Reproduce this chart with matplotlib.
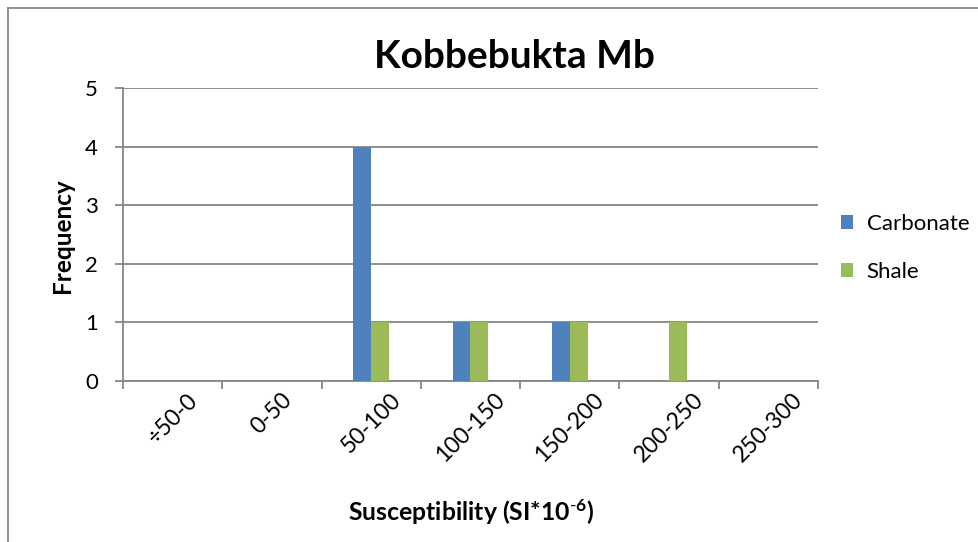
import matplotlib
matplotlib.use("Agg")
import matplotlib.pyplot as plt
from matplotlib.lines import Line2D
import numpy as np

categories = ["÷50-0", "0-50", "50-100", "100-150", "150-200", "200-250", "250-300"]
carbonate = [0, 0, 4, 1, 1, 0, 0]
shale = [0, 0, 1, 1, 1, 1, 0]
series_names = ["Carbonate", "Shale"]
colors = ["#4F81BD", "#9BBB59"]

plt.rcParams['font.family'] = ['Lato', 'DejaVu Sans']
plt.rcParams['mathtext.fontset'] = 'custom'
plt.rcParams['mathtext.rm'] = 'Lato'
plt.rcParams['mathtext.bf'] = 'Lato:bold'

W, H = 979, 542
fig = plt.figure(figsize=(W / 100, H / 100), dpi=100)
ax = fig.add_axes([123 / W, 1 - 381 / H, (818 - 123) / W, (381 - 88) / H])

x = np.arange(len(categories))
bw = 0.18
ax.bar(x - bw / 2, carbonate, width=bw, color=colors[0], label=series_names[0], zorder=3)
ax.bar(x + bw / 2, shale, width=bw, color=colors[1], label=series_names[1], zorder=3)

ax.set_xlim(-0.5, len(categories) - 0.5)
ax.set_ylim(0, 5)
ax.set_yticks(range(6))
ax.yaxis.grid(True, color="#868686", linewidth=1.3, zorder=0)
ax.set_axisbelow(True)

gray = "#868686"
for s in ["top", "right"]:
    ax.spines[s].set_visible(False)
for s in ["left", "bottom"]:
    ax.spines[s].set_color(gray)
    ax.spines[s].set_linewidth(1.3)

ax.set_xticks(np.arange(-0.5, len(categories) + 0.5, 1))
ax.set_xticklabels([])
ax.set_xticks(x, minor=True)
ax.set_xticklabels(categories, minor=True, rotation=45, ha="center", va="top",
                   fontsize=16.5)
ax.tick_params(axis="x", which="major", length=6, width=1.3, color=gray, direction="out")
ax.tick_params(axis="x", which="minor", length=0, pad=6)
ax.tick_params(axis="y", length=6, width=1.3, color=gray, labelsize=16, pad=12)

fig.text(514 / W, 1 - 57 / H, "Kobbebukta Mb", ha="center", va="center",
         fontsize=28, fontweight="bold")
fig.text(63 / W, 1 - 236 / H, "Frequency", ha="center", va="center",
         rotation=90, fontsize=17.5, fontweight="bold")
fig.text(471 / W, 1 - 512 / H, r"Susceptibility (SI*10$\mathbf{^{\text{-}6}}$)", ha="center",
         va="center", fontsize=17.8, fontweight="bold")

leg = fig.legend(loc="upper left", bbox_to_anchor=(821 / W, 1 - 194 / H), frameon=False,
                 fontsize=16, handlelength=0.55, handleheight=0.55, handletextpad=0.6,
                 labelspacing=1.25)

# outer frame (left and top only visible)
fig.add_artist(Line2D([8 / W, 8 / W], [0, 1 - 8 / H], color=gray, linewidth=1.3,
                      transform=fig.transFigure))
fig.add_artist(Line2D([8 / W, 978 / W], [1 - 8 / H, 1 - 8 / H], color=gray, linewidth=1.3,
                      transform=fig.transFigure))

fig.savefig("out.png", dpi=100)
